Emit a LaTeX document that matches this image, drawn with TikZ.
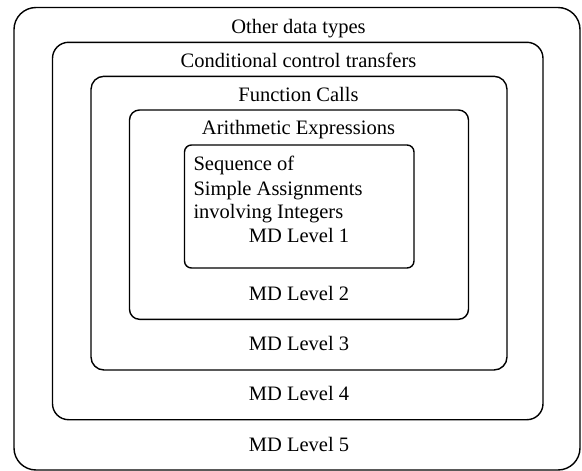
\documentclass[tikz,border=0pt]{standalone}
\usepackage{fontspec}
\setmainfont{Liberation Serif}
\begin{document}
\begin{tikzpicture}[x=1pt,y=-1pt,
  levelbox/.style={draw=black,line width=1.4pt},
  lbl/.style={anchor=base,inner sep=0pt,font=\fontsize{20.5}{24.5}\selectfont}]
\useasboundingbox (0,0) rectangle (582,471);
\fill[white] (0,0) rectangle (582,471);
\draw[levelbox,rounded corners=22pt] (14,7.5) rectangle (580,470);
\draw[levelbox,rounded corners=16pt] (52.5,42.3) rectangle (543,419.7);
\draw[levelbox,rounded corners=13pt] (91,76.3) rectangle (507,370);
\draw[levelbox,rounded corners=10pt] (129.5,110) rectangle (468.5,319.3);
\draw[levelbox,rounded corners=7pt] (184.5,145) rectangle (414,268);
\node[lbl] (t5) at (298.5,33.5) {Other data types};
\node[lbl] (t4) at (298.5,67.7) {Conditional control transfers};
\node[lbl] (t3) at (298.5,101) {Function Calls};
\node[lbl] (t2) at (298.5,134.5) {Arithmetic Expressions};
\node[lbl,anchor=base west] (s1) at (193.3,170.7) {Sequence of};
\node[lbl,anchor=base west] (s2) at (193.3,195) {Simple Assignments};
\node[lbl,anchor=base west] (s3) at (193.3,218) {involving Integers};
\node[lbl] (m1) at (299,242.7) {MD Level 1};
\node[lbl] (m2) at (299,300) {MD Level 2};
\node[lbl] (m3) at (299,350) {MD Level 3};
\node[lbl] (m4) at (299,400.7) {MD Level 4};
\node[lbl] (m5) at (299,451) {MD Level 5};
\end{tikzpicture}
\end{document}
